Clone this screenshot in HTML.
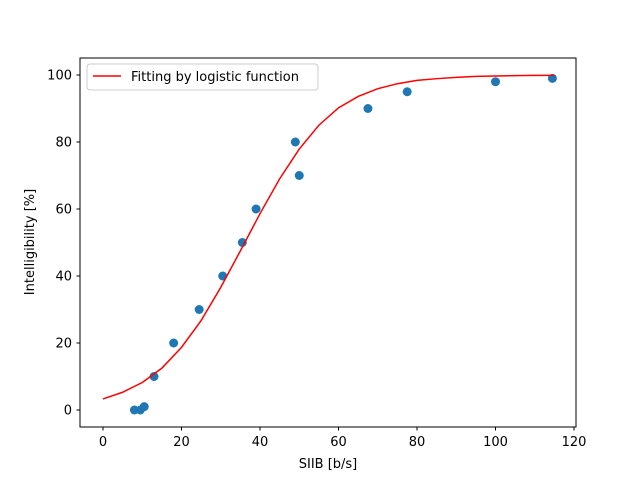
<!DOCTYPE html>
<html><head><meta charset="utf-8"><style>
body{margin:0;background:#fff}
svg text{font-family:"DejaVu Sans","Liberation Sans",sans-serif;font-size:13px;fill:#000}
</style></head><body>
<svg id="chart" width="640" height="480">
<rect x="0" y="0" width="640" height="480" fill="#fff"/>
<g id="plot"></g>
<rect x="80" y="58" width="496" height="369" fill="none" stroke="#000" stroke-width="1"/>
<g id="xt"></g>
<g id="yt"></g>
<text x="328" y="468" text-anchor="middle">SIIB [b/s]</text>
<text transform="translate(34,242) rotate(-90)" text-anchor="middle">Intelligibility [%]</text>
<g>
<rect x="87" y="64" width="231" height="26" rx="3" fill="#fff" fill-opacity="0.8" stroke="#ccc"/>
<line x1="93" y1="76" x2="121" y2="76" stroke="red" stroke-width="1.5"/>
<text x="131" y="81">Fitting by logistic function</text>
</g>
</svg>
<script>
const scatterX=[8,9.5,10.5,13,18,24.5,30.5,35.5,39,49,50,67.5,77.5,100,114.5];
const scatterY=[0,0,1,10,20,30,40,50,60,80,70,90,95,98,99];
const fitX=[0,5,10,15,20,25,30,35,40,45,50,55,60,65,70,75,80,85,90,95,100,105,110,115];
const fitY=[3.3,5.3,8.2,12.5,18.7,26.7,36.6,47.5,58.6,69,77.9,85,90.2,93.6,95.9,97.4,98.4,98.9,99.3,99.6,99.7,99.8,99.9,99.9];
const xTicks=[0,20,40,60,80,100,120];
const yTicks=[0,20,40,60,80,100];
const NS='http://www.w3.org/2000/svg';
const xs=v=>103+v*(471/120);
const ys=v=>410-v*3.35;
function mk(t,a,p){const e=document.createElementNS(NS,t);for(const k in a)e.setAttribute(k,a[k]);p.appendChild(e);return e;}
const plot=document.getElementById('plot');
scatterX.forEach((x,i)=>{const c=mk('circle',{cx:xs(x),cy:ys(scatterY[i]),r:4.5,fill:'#1f77b4'},plot);

});
const pl=mk('polyline',{points:fitX.map((x,i)=>xs(x)+','+ys(fitY[i])).join(' '),fill:'none',stroke:'red','stroke-width':1.5},plot);


const xt=document.getElementById('xt'),yt=document.getElementById('yt');
xTicks.forEach(v=>{const l=mk('line',{x1:xs(v),x2:xs(v),y1:427,y2:430.5,stroke:'#000'},xt);


const t=mk('text',{x:xs(v),y:446,'text-anchor':'middle'},xt);t.textContent=v;

});
yTicks.forEach(v=>{const l=mk('line',{x1:76.5,x2:80,y1:ys(v),y2:ys(v),stroke:'#000'},yt);


const t=mk('text',{x:72,y:ys(v)+4.5,'text-anchor':'end'},yt);t.textContent=v;

});
</script>
</body></html>
